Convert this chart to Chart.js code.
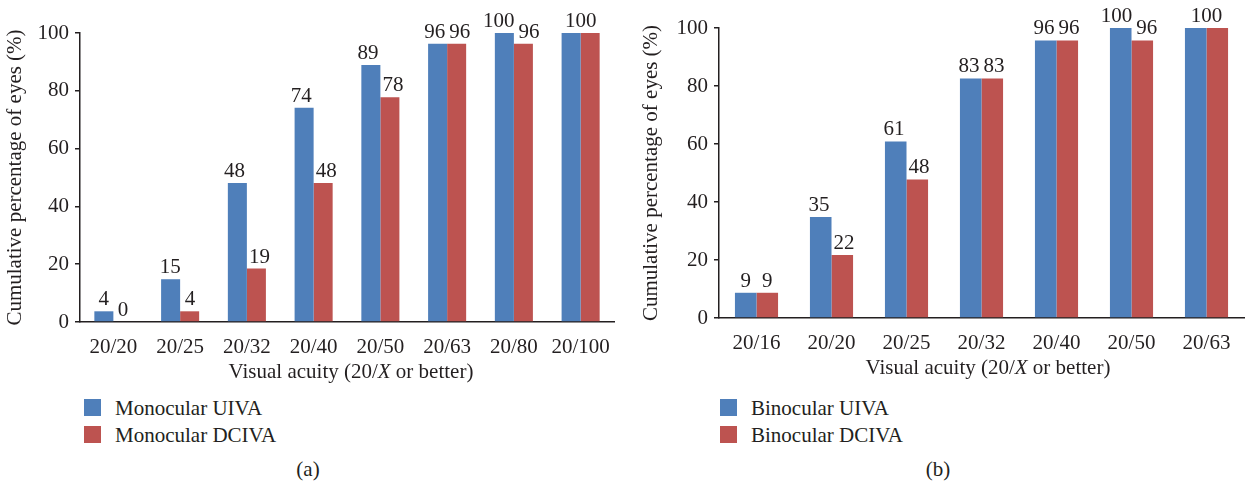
<!DOCTYPE html>
<html>
<head>
<meta charset="utf-8">
<script src="https://cdn.jsdelivr.net/npm/chart.js@4.4.1/dist/chart.umd.min.js"></script>
<style>
  body { margin: 0; background: #fff; width: 1245px; height: 485px; position: relative; overflow: hidden;
         font-family: "Liberation Serif", "Times New Roman", serif; color: #231f20; }
  canvas { position: absolute; top: 0; }
  .legend { position: absolute; font-size: 21px; }
  .legend .item { position: absolute; left: 0; height: 17px; white-space: nowrap; }
  .legend .swatch { position: absolute; left: 0; top: 0; width: 17px; height: 17px; }
  .legend .text { position: absolute; left: 31px; top: -3px; line-height: 24px; }
  .caption { position: absolute; width: 100px; text-align: center; font-size: 21px; line-height: 24px; }
</style>
</head>
<body>
<canvas id="chartA" width="622" height="390" style="left:0"></canvas>
<canvas id="chartB" width="623" height="390" style="left:622px"></canvas>
<div id="legendA" class="legend" style="left:84px;top:399px"></div>
<div id="legendB" class="legend" style="left:720px;top:399px"></div>
<div class="caption" style="left:258px;top:457px">(a)</div>
<div class="caption" style="left:888px;top:457px">(b)</div>

<script>
// panel (a): monocular
const monoLabels = ["20/20", "20/25", "20/32", "20/40", "20/50", "20/63", "20/80", "20/100"];
const monoUIVA = [3.7, 14.8, 48.1, 74.1, 88.9, 96.3, 100, 100];
const monoDCIVA = [0, 3.7, 18.5, 48.1, 77.8, 96.3, 96.3, 100];

// panel (b): binocular
const binoLabels = ["20/16", "20/20", "20/25", "20/32", "20/40", "20/50", "20/63"];
const binoUIVA = [8.7, 34.8, 60.9, 82.6, 95.7, 100, 100];
const binoDCIVA = [8.7, 21.7, 47.8, 82.6, 95.7, 95.7, 100];

const yTicks = [0, 20, 40, 60, 80, 100];

const TEXT = "#231f20";
const BLUE = "#4f7fba";
const RED = "#bd5350";
const FAMILY = '"Liberation Serif", "Times New Roman", serif';
const FONT = { family: FAMILY, size: 21 };

Chart.defaults.font.family = FAMILY;
Chart.defaults.font.size = 21;
Chart.defaults.color = TEXT;

// value labels above the bars; identical wide labels are merged, close ones pushed apart
const barLabels = {
  id: "barLabels",
  afterDatasetsDraw(chart) {
    const { ctx } = chart;
    const m0 = chart.getDatasetMeta(0);
    const m1 = chart.getDatasetMeta(1);
    const d0 = chart.data.datasets[0].data;
    const d1 = chart.data.datasets[1].data;
    ctx.save();
    ctx.font = "21px " + FAMILY;
    ctx.fillStyle = TEXT;
    ctx.textAlign = "center";
    ctx.textBaseline = "alphabetic";
    m0.data.forEach((b0, i) => {
      const b1 = m1.data[i];
      const t0 = String(Math.round(d0[i]));
      const t1 = String(Math.round(d1[i]));
      const w0 = ctx.measureText(t0).width;
      const w1 = ctx.measureText(t1).width;
      let x0 = b0.x;
      let x1 = b1.x;
      const raw = (x0 + w0 / 2) - (x1 - w1 / 2);
      if (t0 === t1 && raw > 6) {
        ctx.fillText(t0, (x0 + x1) / 2, Math.min(b0.y, b1.y) - 6);
        return;
      }
      const overlap = raw + 4;
      if (overlap > 0) {
        x0 -= overlap / 2;
        x1 += overlap / 2;
      }
      ctx.fillText(t0, x0, b0.y - 6);
      ctx.fillText(t1, x1, b1.y - 6);
    });
    ctx.restore();
  },
};

// x axis title with italic X
const xTitle = {
  id: "xTitle",
  afterDraw(chart, args, opts) {
    const { ctx } = chart;
    const parts = [
      ["Visual acuity (20/", ""],
      ["X", "italic "],
      [" or better)", ""],
    ];
    ctx.save();
    ctx.fillStyle = TEXT;
    ctx.textBaseline = "middle";
    ctx.textAlign = "left";
    let total = 0;
    const widths = parts.map(([t, s]) => {
      ctx.font = s + "21px " + FAMILY;
      const w = ctx.measureText(t).width;
      total += w;
      return w;
    });
    let x = opts.cx - total / 2;
    parts.forEach(([t, s], i) => {
      ctx.font = s + "21px " + FAMILY;
      ctx.fillText(t, x, opts.cy);
      x += widths[i];
    });
    ctx.restore();
  },
};

function makePanel(canvasId, legendId, labels, uiva, dciva, names, g) {
  const chart = new Chart(document.getElementById(canvasId), {
    type: "bar",
    data: {
      labels: labels,
      datasets: [
        { label: names[0], data: uiva, backgroundColor: BLUE, borderWidth: 0 },
        { label: names[1], data: dciva, backgroundColor: RED, borderWidth: 0 },
      ],
    },
    options: {
      responsive: false,
      animation: false,
      devicePixelRatio: 1,
      datasets: { bar: { categoryPercentage: g.catPct, barPercentage: 1 } },
      layout: { padding: { top: g.plotTop, left: 0, right: g.padRight, bottom: 0 } },
      plugins: {
        legend: { display: false },
        tooltip: { enabled: false },
        xTitle: { cx: g.xTitleX, cy: g.xTitleY },
      },
      scales: {
        x: {
          offset: true,
          grid: { display: false },
          border: { display: true, color: TEXT, width: 1.5 },
          ticks: { padding: 5, maxRotation: 0, autoSkip: false, font: FONT, color: TEXT },
          afterFit: (s) => { s.height = g.canvasH - g.plotBottom; },
        },
        y: {
          min: 0,
          max: 100,
          afterBuildTicks: (s) => { s.ticks = yTicks.map((v) => ({ value: v })); },
          ticks: { padding: 6, font: FONT, color: TEXT },
          grid: { drawOnChartArea: false, drawTicks: true, tickLength: 5, color: TEXT, lineWidth: 1.5 },
          border: { display: true, color: TEXT, width: 1.5 },
          title: {
            display: true,
            text: "Cumulative percentage of eyes (%)",
            font: FONT,
            color: TEXT,
            padding: { top: g.yTitlePad, bottom: 0 },
          },
          afterFit: (s) => { s.width = g.plotLeft; },
        },
      },
    },
    plugins: [barLabels, xTitle],
  });

  // legend as html, built from the chart's datasets
  const box = document.getElementById(legendId);
  chart.data.datasets.forEach((ds, i) => {
    const item = document.createElement("div");
    item.className = "item";
    item.style.top = i * 27 + "px";
    const sw = document.createElement("div");
    sw.className = "swatch";
    sw.style.background = ds.backgroundColor;
    const tx = document.createElement("div");
    tx.className = "text";
    tx.textContent = ds.label;
    item.appendChild(sw);
    item.appendChild(tx);
    box.appendChild(item);
  });
  return chart;
}

makePanel("chartA", "legendA", monoLabels, monoUIVA, monoDCIVA,
  ["Monocular UIVA", "Monocular DCIVA"],
  { plotLeft: 80, plotTop: 33, plotBottom: 322, canvasH: 390, padRight: 8,
    catPct: 0.57, yTitlePad: 3, xTitleX: 351, xTitleY: 372 });

makePanel("chartB", "legendB", binoLabels, binoUIVA, binoDCIVA,
  ["Binocular UIVA", "Binocular DCIVA"],
  { plotLeft: 97, plotTop: 28, plotBottom: 318, canvasH: 390, padRight: 1,
    catPct: 0.575, yTitlePad: 17, xTitleX: 366, xTitleY: 368 });
</script>
</body>
</html>
